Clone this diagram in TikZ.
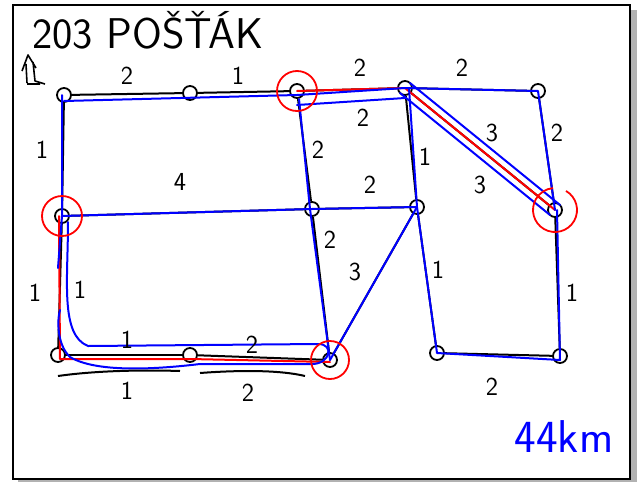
\documentclass[tikz,border=0pt]{standalone}
\usepackage{tikz}

\tikzset{
  vtx/.style={circle, draw, line width=1.8pt, inner sep=0pt, minimum size=14pt},
  road/.style={black, line width=2pt},
  route/.style={blue, line width=2pt, line cap=round, line join=round},
  twice/.style={red, line width=2pt, line cap=round, line join=round},
  odd/.style={red, line width=1.8pt},
  num/.style={font=\sffamily\fontsize{26}{26}\selectfont, inner sep=0pt},
}

\begin{document}
\begin{tikzpicture}[x=1pt, y=-1pt]
  \useasboundingbox (0,0) rectangle (639,482);

  % Frame with shadow
  \fill[gray!60] (631,10) rectangle (637,482);
  \fill[gray!60] (18,480) rectangle (637,482);
  \draw[line width=2.4pt] (13,5) rectangle (630,479);

  % Crossings
  \node[vtx] (A) at (64,95) {};
  \node[vtx] (B) at (190,93) {};
  \node[vtx] (C) at (297,91) {};
  \node[vtx] (D) at (405,88) {};
  \node[vtx] (E) at (538,91) {};
  \node[vtx] (F) at (62,216) {};
  \node[vtx] (G) at (312,209) {};
  \node[vtx] (H) at (417,207) {};
  \node[vtx] (I) at (555,210) {};
  \node[vtx] (J) at (58,355) {};
  \node[vtx] (K) at (190,355) {};
  \node[vtx] (L) at (330,360) {};
  \node[vtx] (M) at (437,353) {};
  \node[vtx] (N) at (560,356) {};

  % Streets (black)
  \draw[road] (A) -- (B);
  \draw[road] (B) -- (C);
  \draw[road] (C) -- (D);
  \draw[road] (D) -- (E);
  \draw[road] (A) -- (F);
  \draw[road] (F) -- (J);
  \draw[road] (F) -- (G);
  \draw[road] (G) -- (H);
  \draw[road] (C) -- (G);
  \draw[road] (G) -- (L);
  \draw[road] (H) -- (L);
  \draw[road] (D) -- (H);
  \draw[road] (D) -- (I);
  \draw[road] (E) -- (I);
  \draw[road] (H) -- (M);
  \draw[road] (I) -- (N);
  \draw[road] (M) -- (N);
  \draw[road] (J) -- (K);
  \draw[road] (K) -- (L);

  % Streets walked twice (red)
  \draw[twice] (C.center) -- (D.center);
  \draw[twice] (D.center) -- (I.center);
  \draw[twice] ([xshift=-3pt]F.center) -- ([shift={(2pt,-4pt)}]J.center)
    -- ([yshift=-4pt]K.center) -- ([yshift=-2pt]L.center);

  % Route (blue)
  \draw[route] ([yshift=-6pt]A.center) -- ([yshift=-4pt]C.center) -- (D.center)
    -- (E.center) -- (I.center);
  \draw[route] ([yshift=-14pt]C.center) -- ([yshift=-10pt]D.center);
  \draw[route] ([shift={(5pt,5pt)}]D.center) -- ([shift={(5pt,5pt)}]I.center);
  \draw[route] ([shift={(-5pt,-5pt)}]D.center) -- ([shift={(-5pt,-5pt)}]I.center);
  \draw[route] ([xshift=4pt]D.center) -- (H.center) -- (M.center)
    -- ([yshift=-4pt]N.center) -- ([xshift=2pt]I.center);
  \draw[route] (F.center) -- (G.center) -- (H.center) -- (L.center);
  \draw[route] ([shift={(2pt,-8pt)}]C.center) -- ([xshift=-2pt]G.center) -- (L.center);
  \draw[route] ([xshift=-2pt]A.center) -- (F.center) -- (58,268);

  % Loop round the bottom block (blue)
  \coordinate (s1) at (68,222);
  \coordinate (s2) at (88,346);
  \coordinate (s3) at (318,344);
  \coordinate (s4) at (312,364);
  \coordinate (s5) at (70,357);
  \draw[route] (s1) .. controls (68,280) and (60,335) .. (s2)
    -- (s3) .. controls (335,344) and (330,364) .. (s4)
    -- (200,364) .. controls (150,370) and (95,372) .. (s5)
    .. controls (57,345) and (57,320) .. (60,310);

  % Odd crossings (red rings)
  \draw[odd] (C) circle (20pt);
  \draw[odd] (F) circle (20pt);
  \draw[odd] (L) circle (19pt);
  \draw[odd] ([shift={(60:22pt)}]I.center) arc (60:-265:22pt);

  % Underlines at the bottom street
  \coordinate (u1) at (58,376);
  \coordinate (u2) at (180,371);
  \coordinate (u3) at (200,373);
  \coordinate (u4) at (305,376);
  \draw[road] (u1) .. controls (100,370) and (150,370) .. (u2);
  \draw[road] (u3) .. controls (240,370) and (280,370) .. (u4);

  % Lengths
  \node[num] (lAB) at (127,76) {2};
  \node[num] (lBC) at (238,76) {1};
  \node[num] (lCD) at (360,68) {2};
  \node[num] (lDE) at (462,68) {2};
  \node[num] (lCDb) at (363,118) {2};
  \node[num] (lAF) at (42,150) {1};
  \node[num] (lFG) at (180,182) {4};
  \node[num] (lCG) at (318,150) {2};
  \node[num] (lGH) at (370,185) {2};
  \node[num] (lDH) at (425,157) {1};
  \node[num] (lDIa) at (492,133) {3};
  \node[num] (lDIb) at (480,185) {3};
  \node[num] (lEI) at (557,133) {2};
  \node[num] (lGL) at (330,240) {2};
  \node[num] (lHL) at (355,272) {3};
  \node[num] (lFJa) at (35,293) {1};
  \node[num] (lFJb) at (80,290) {1};
  \node[num] (lHM) at (438,270) {1};
  \node[num] (lIN) at (572,293) {1};
  \node[num] (lJK) at (127,340) {1};
  \node[num] (lKL) at (252,345) {2};
  \node[num] (lMN) at (492,387) {2};
  \node[num] (lU1) at (127,391) {1};
  \node[num] (lU2) at (248,393) {2};

  % Title, start mark and total
  \node[font=\sffamily\fontsize{43}{43}\selectfont, inner sep=0pt] (title) at (148,30) {203 POŠŤÁK};
  \draw[line width=1.6pt, line join=round] (22,71) -- (28,55) -- (36,68)
    (26,64) -- (27,83) (33,62) -- (35,81) -- (45,84) (27,84) -- (40,84);
  \node[blue, font=\sffamily\fontsize{46}{46}\selectfont, inner sep=0pt] (total) at (564,437) {44km};
\end{tikzpicture}
\end{document}
